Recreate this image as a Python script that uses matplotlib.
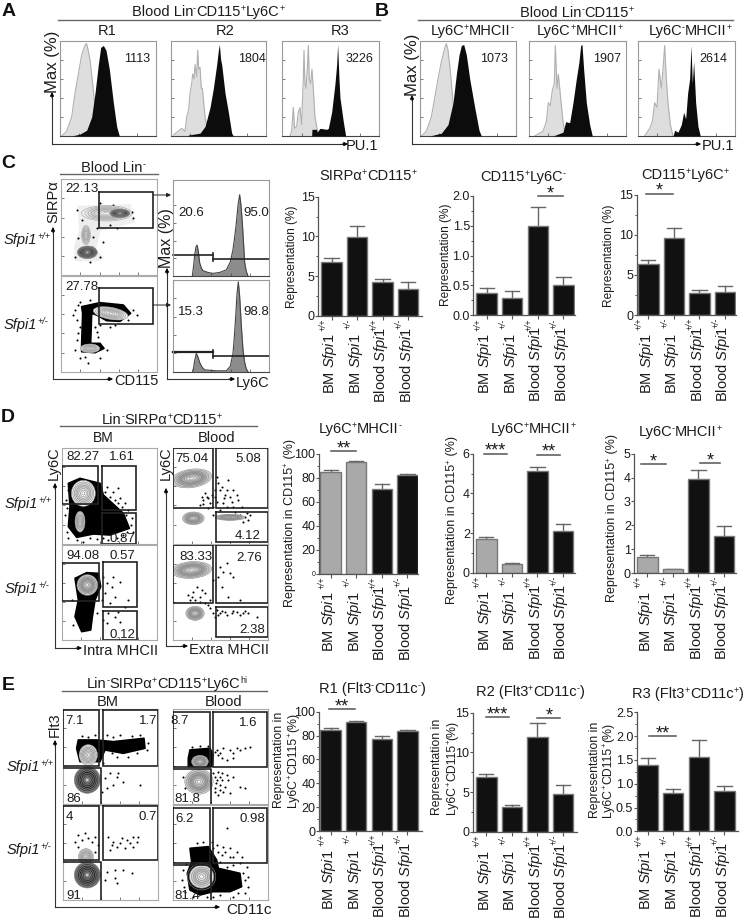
import re
import matplotlib
matplotlib.use("Agg")
import matplotlib.pyplot as plt
from matplotlib.font_manager import FontProperties
from matplotlib.patches import Ellipse, Polygon

plt.rcParams["font.family"] = ["Liberation Sans", "DejaVu Sans"]
plt.rcParams["mathtext.fontset"] = "custom"
plt.rcParams["mathtext.rm"] = "Liberation Sans"
plt.rcParams["mathtext.it"] = "Liberation Sans:italic"
plt.rcParams["mathtext.bf"] = "Liberation Sans:bold"
plt.rcParams["mathtext.default"] = "regular"

W, H = 746, 923
TEXT = "#1c1c1c"
GRAY_BAR = "#a9a9a9"
BLACK_BAR = "#111111"

# ---- bar charts ----
groups = ["BM", "BM", "Blood", "Blood"]
genotypes = ["+/+", "+/-", "+/+", "+/-"]

c1_vals = [6.8, 9.9, 4.2, 3.4]
c1_tops = [7.3, 11.3, 4.6, 4.2]
c2_vals = [0.37, 0.29, 1.49, 0.51]
c2_tops = [0.45, 0.41, 1.81, 0.65]
c3_vals = [6.4, 9.6, 2.8, 2.85]
c3_tops = [6.9, 10.8, 3.1, 3.6]
d1_vals = [85, 93.5, 70.5, 82.5]
d1_tops = [86.5, 94, 75, 83.5]
d2_vals = [1.72, 0.43, 5.15, 2.08]
d2_tops = [1.82, 0.48, 5.35, 2.45]
d3_vals = [0.65, 0.15, 3.95, 1.55]
d3_tops = [0.75, 0.17, 4.3, 1.95]
e1_vals = [85, 91.5, 77, 83.5]
e1_tops = [86.5, 92.5, 80, 84.5]
e2_vals = [6.9, 3.2, 11.9, 4.8]
e2_tops = [7.3, 3.4, 13.7, 5.9]
e3_vals = [1.39, 0.8, 1.57, 0.85]
e3_tops = [1.54, 0.88, 1.92, 0.96]

# ---- histograms (x = channel, y = % of max) ----
a1_gx = [185, 200, 215, 225, 235, 245, 255, 259, 262, 270, 278, 285, 295, 305]
a1_gy = [0, 5, 20, 45, 65, 85, 95, 97, 94, 80, 55, 30, 10, 1]
a1_kx = [215, 240, 260, 275, 285, 295, 302, 310, 318, 328, 340, 350, 358]
a1_ky = [0, 2, 6, 20, 45, 75, 93, 95, 90, 70, 35, 10, 0]
a2_gx = [520, 545, 555, 560, 566, 570, 575, 578, 582, 585, 590, 593, 596, 600, 604, 607, 615, 625]
a2_gy = [1, 8, 5, 20, 28, 45, 55, 65, 60, 75, 62, 90, 70, 72, 50, 50, 20, 2]
a2_kx = [565, 600, 615, 630, 640, 650, 655, 658, 662, 665, 675, 685, 695, 700]
a2_ky = [1, 3, 10, 30, 50, 75, 90, 96, 80, 75, 45, 25, 3, 0]
a3_gx = [870, 875, 880, 884, 890, 895, 900, 905, 910, 912, 915, 918, 922, 925, 928, 932, 936, 940, 945, 950, 955]
a3_gy = [0, 5, 30, 8, 10, 25, 30, 12, 60, 90, 55, 50, 70, 95, 60, 55, 70, 50, 20, 10, 0]
a3_kx = [935, 936, 950, 951, 960, 961, 980, 985, 995, 1005, 1010, 1013, 1017, 1020, 1030, 1037]
a3_ky = [0, 7, 7, 4, 8, 8, 7, 8, 25, 55, 75, 96, 60, 40, 15, 0]
b1_gx = [145, 160, 175, 185, 195, 205, 215, 220, 225, 232, 240, 248, 258]
b1_gy = [0, 5, 20, 40, 60, 78, 92, 97, 90, 68, 35, 12, 1]
b1_kx = [170, 205, 225, 240, 250, 258, 265, 272, 280, 290, 305, 318, 325]
b1_ky = [0, 3, 12, 35, 65, 85, 95, 96, 85, 60, 30, 6, 0]
b2_gx = [485, 510, 520, 526, 532, 538, 544, 547, 552, 556, 563, 570, 578]
b2_gy = [0, 5, 15, 35, 32, 48, 55, 95, 50, 65, 40, 15, 0]
b2_kx = [540, 570, 578, 590, 600, 610, 618, 623, 627, 632, 640, 650, 658]
b2_ky = [0, 4, 15, 14, 35, 60, 78, 95, 96, 70, 35, 12, 0]
b3_gx = [815, 830, 838, 845, 852, 858, 865, 870, 875, 880, 885, 892, 900]
b3_gy = [0, 8, 15, 35, 30, 70, 50, 70, 95, 60, 35, 12, 0]
b3_kx = [900, 905, 915, 925, 932, 938, 944, 950, 954, 958, 962, 968, 975, 982]
b3_ky = [0, 6, 4, 12, 25, 18, 45, 60, 95, 55, 78, 35, 10, 0]
c_top_x = [578, 582, 585, 589, 592, 596, 600, 605, 610, 625, 640, 660, 680, 692, 700, 705, 710, 715, 720, 724, 728, 732, 735, 740, 745]
c_top_y = [0, 12, 24, 33, 35, 28, 15, 9, 6, 4, 3, 4, 7, 16, 30, 44, 60, 80, 92, 80, 60, 35, 15, 5, 0]
c_bot_x = [580, 585, 590, 595, 600, 607, 615, 650, 680, 692, 700, 704, 708, 712, 716, 720, 725, 730, 735, 740, 745]
c_bot_y = [0, 12, 20, 16, 10, 5, 2, 1, 1, 6, 20, 38, 60, 85, 98, 82, 50, 24, 10, 3, 0]

# ---- flow panels: (cx, cy, w, h, angle) of contour groups, clouds and events ----
c_top_halo = [[(235, 170), (390, 165), (402, 215), (300, 240), (285, 300), (310, 325), (290, 332), (228, 330),
               (225, 290), (240, 240)]]
c_top_dark = [(262, 307, 60, 38, 0), (360, 190, 60, 26, 0)]
c_top_light = [(320, 190, 150, 46, 0), (258, 255, 26, 58, 0)]
c_top_dots = [(232, 180), (245, 210), (300, 160), (340, 165), (395, 185), (400, 205), (290, 235), (275, 290),
              (310, 275), (235, 265), (280, 260), (300, 320), (225, 320), (270, 335), (330, 225), (350, 235)]
c_bot_rings = [(332, 490, 105, 36, 10), (270, 595, 58, 26, 0)]
c_bot_clouds = [[(245, 470), (300, 458), (370, 465), (392, 490), (360, 514), (320, 512), (290, 495), (275, 490),
                 (272, 580), (300, 580), (312, 595), (285, 608), (245, 605), (245, 580), (248, 490)]]
c_bot_dots = [(235, 465), (225, 480), (232, 510), (300, 525), (330, 530), (385, 510), (400, 480), (240, 530),
              (285, 530), (295, 560), (230, 570), (225, 600), (320, 600), (240, 625), (265, 640), (345, 525),
              (240, 455), (270, 450), (410, 495), (220, 495), (290, 545), (235, 550), (300, 625), (255, 620)]

d_bm1_rings = [(250, 280, 72, 78, 0), (240, 365, 30, 62, 0)]
d_bm1_clouds = [[(205, 250), (240, 235), (300, 250), (310, 285), (370, 340), (388, 385), (330, 405), (280, 402),
                 (230, 412), (205, 380), (210, 320)]]
d_bm1_dots = [(320, 262), (340, 275), (355, 265), (375, 310), (385, 330), (395, 355), (400, 395), (370, 405),
              (350, 415), (325, 420), (290, 418), (250, 425), (205, 415), (195, 345), (198, 300), (360, 295),
              (330, 290), (345, 300), (365, 320), (378, 345), (392, 375), (380, 395), (310, 415), (270, 415),
              (230, 420), (200, 395), (200, 325), (203, 270), (315, 275), (355, 310)]
d_bm2_rings = [(262, 555, 62, 62, 0)]
d_bm2_clouds = [[(225, 535), (260, 518), (295, 520), (302, 560), (285, 600), (277, 650), (272, 690), (245, 695),
                 (225, 650), (235, 600)]]
d_bm2_dots = [(310, 530), (320, 550), (335, 560), (315, 580), (345, 590), (360, 545), (330, 610), (375, 620),
              (325, 640), (345, 650), (355, 635), (385, 600), (320, 670), (360, 665), (305, 600), (340, 530),
              (215, 600), (220, 675), (290, 640), (310, 660)]
d_bl1_rings = [(575, 235, 120, 55, -8), (580, 355, 65, 38, 0), (690, 352, 90, 18, 0)]
d_bl1_dots = [(620, 290), (610, 300), (630, 310), (645, 290), (600, 315), (625, 325), (655, 250), (665, 260),
              (680, 270), (700, 270), (690, 290), (715, 300), (670, 310), (725, 320), (740, 340), (745, 360),
              (660, 330), (640, 345), (700, 320), (720, 345), (675, 285), (615, 280), (650, 305), (730, 365),
              (605, 290), (625, 295), (635, 285), (610, 312), (640, 320), (660, 270), (672, 295), (695, 305),
              (710, 285), (705, 335), (735, 350), (750, 345), (685, 240), (650, 230), (645, 270), (680, 320)]
d_bl2_rings = [(575, 510, 120, 50, -4), (585, 640, 55, 42, 0)]
d_bl2_dots = [(580, 575), (600, 590), (570, 600), (590, 560), (615, 580), (640, 540), (660, 500), (680, 490),
              (700, 530), (665, 560), (685, 590), (720, 600), (625, 615), (640, 640), (660, 640), (675, 635),
              (695, 640), (710, 635), (730, 640), (745, 640), (650, 630), (770, 650), (690, 520), (630, 600),
              (575, 590), (585, 600), (565, 585), (605, 570), (600, 605), (680, 645), (665, 632), (720, 645),
              (700, 632), (735, 632), (655, 645), (645, 650), (630, 625), (615, 610), (670, 515), (655, 530)]

e_bm1_light = [(265, 285, 55, 62, 0)]
e_bm1_dark = [(262, 360, 78, 80, 0)]
e_bm1_clouds = [[(235, 240), (290, 240), (340, 245), (432, 235), (435, 265), (370, 280), (315, 270), (300, 305),
                 (240, 305), (230, 265)]]
e_bm1_dots = [(445, 250), (440, 270), (420, 225), (360, 225), (320, 225), (310, 310), (330, 340), (350, 350),
              (370, 365), (340, 375), (420, 375), (315, 355), (320, 385), (305, 395), (355, 340), (385, 290),
              (245, 228), (265, 232), (285, 225), (340, 232), (395, 228), (410, 280), (350, 290), (335, 280)]
e_bm2_light = [(258, 590, 45, 48, 0)]
e_bm2_dark = [(262, 645, 78, 78, 0)]
e_bm2_dots = [(235, 525), (245, 540), (235, 560), (285, 530), (295, 555), (275, 545), (325, 530), (340, 545),
              (360, 550), (380, 540), (400, 530), (415, 530), (350, 560), (375, 565), (330, 570), (400, 560),
              (255, 520), (265, 535), (225, 545), (285, 575), (320, 635), (345, 630), (370, 630), (395, 640),
              (345, 655), (315, 660), (350, 670), (335, 555), (365, 535), (390, 550), (410, 545), (245, 575)]
e_bl1_light = [(600, 305, 50, 38, 0), (597, 365, 85, 75, 0)]
e_bl1_clouds = [[(570, 270), (630, 265), (640, 285), (635, 320), (565, 320), (565, 295)]]
e_bl1_dots = [(650, 270), (670, 265), (690, 270), (700, 280), (720, 270), (735, 265), (655, 285), (680, 300),
              (640, 340), (650, 360), (660, 375), (680, 345), (670, 395), (700, 350), (645, 385), (660, 350),
              (720, 380), (735, 385), (550, 350), (555, 385), (750, 260), (655, 405), (665, 340), (690, 400),
              (645, 350), (655, 335), (648, 370), (665, 360), (675, 380), (685, 360), (645, 395), (660, 390),
              (645, 275), (660, 280), (665, 295), (710, 265), (700, 295), (575, 262), (600, 258), (625, 258)]
e_bl2_rings = [(605, 650, 85, 80, 0)]
e_bl2_clouds = [[(570, 565), (625, 560), (650, 600), (655, 625), (720, 640), (725, 680), (690, 695), (640, 695),
                 (600, 705), (570, 690), (562, 640), (575, 605)]]
e_bl2_dots = [(650, 555), (670, 560), (690, 565), (710, 575), (665, 585), (690, 590), (725, 590), (740, 620),
              (680, 505), (735, 660), (745, 680), (735, 700), (700, 712), (640, 712), (590, 550), (610, 545),
              (545, 660), (550, 630), (555, 695), (700, 615), (655, 575), (720, 610), (660, 605), (680, 620),
              (640, 565), (635, 545), (675, 575), (700, 590), (730, 640), (745, 650), (715, 700), (660, 705),
              (620, 712), (580, 710), (558, 612), (552, 680)]


def px_axes(fig, l, t, r, b):
    return fig.add_axes([l / W, 1 - b / H, (r - l) / W, (b - t) / H])


def bar_panel(fig, left, right, top, base, c0, ymax, vals, tops, colors, yticks, yminor, ylabels, sig):
    step = 25.55
    ax = px_axes(fig, left, top, right, base)
    ax.patch.set_alpha(0)
    xs = list(range(4))
    ax.bar(xs, vals, width=0.8, color=colors, edgecolor="#777777", linewidth=1, zorder=2)
    for x, v, t in zip(xs, vals, tops):
        ax.plot([x, x], [v, t], color="#666666", lw=1, zorder=1)
        ax.plot([x - 0.28, x + 0.28], [t, t], color="#666666", lw=1, zorder=1)
    ax.set_xlim((left - c0) / step, (right - c0) / step)
    ax.set_ylim(0, ymax)
    for s in ["top", "right"]:
        ax.spines[s].set_visible(False)
    for s in ["left", "bottom"]:
        ax.spines[s].set_color("#555555")
        ax.spines[s].set_linewidth(0.9)
    ax.set_xticks(xs)
    ax.set_xticklabels([])
    ax.set_yticks(yticks)
    ax.set_yticklabels(ylabels, fontsize=9, color=TEXT)
    ax.set_yticks(yminor, minor=True)
    ax.tick_params(axis="y", which="major", length=2, width=0.8, color="#555555", pad=0.5)
    ax.tick_params(axis="y", which="minor", length=1.2, width=0.7, color="#555555")
    ax.tick_params(axis="x", length=3, width=0.8, color="#555555")
    for x, grp, geno in zip(xs, groups, genotypes):
        off = 18 if grp == "BM" else 11
        ax.annotate(f"{grp} $\\mathit{{Sfpi1}}$", xy=(x, 0), xycoords=("data", "axes fraction"),
                    xytext=(-1.5, -off), textcoords="offset pixels", rotation=90,
                    ha="center", va="top", fontsize=10.5, color=TEXT)
        ax.annotate(geno, xy=(x, 0), xycoords=("data", "axes fraction"), xytext=(-9, -3),
                    textcoords="offset pixels", rotation=90, ha="center", va="top",
                    fontsize=6.2, style="italic", color=TEXT)
    for x0, x1, y, stars in sig:
        ax.plot([x0, x1], [y, y], color="#555555", lw=1.1, clip_on=False, zorder=3)
        ax.annotate(stars, xy=((x0 + x1) / 2, y), xytext=(0, -6), textcoords="offset pixels",
                    ha="center", va="bottom", fontsize=13, color=TEXT, annotation_clip=False)
    return ax


def hist_axes(fig, box, xr, ylim=(0, 100)):
    ax = px_axes(fig, *box)
    ax.set_xlim(*xr)
    ax.set_ylim(*ylim)
    for s in ax.spines.values():
        s.set_color("#999999")
        s.set_linewidth(0.8)
    ax.spines["bottom"].set_color("#444444")
    ax.set_xticks([xr[0] + (xr[1] - xr[0]) * f for f in (0.2, 0.4, 0.6, 0.8)])
    ax.set_yticks([20, 40, 60, 80])
    ax.set_xticklabels([])
    ax.set_yticklabels([])
    ax.tick_params(direction="in", length=2, width=0.5, color="#444444")
    return ax


def pu1_hist(fig, box, xr, gx, gy, kx, ky):
    ax = hist_axes(fig, box, xr)
    ax.fill_between(gx, gy, color="#dedede", lw=0, zorder=1)
    ax.plot(gx, gy, color="#b0b0b0", lw=0.8, zorder=2)
    ax.fill_between(kx, ky, color="#0c0c0c", lw=0, zorder=3)


def flow_axes(fig, box, xr, yr):
    ax = px_axes(fig, *box)
    ax.set_xlim(*xr)
    ax.set_ylim(*yr)  # y runs downward, panels carry no numeric scale
    for s in ax.spines.values():
        s.set_color("#aaaaaa")
        s.set_linewidth(0.8)
    ax.set_xticks([xr[0] + (xr[1] - xr[0]) * f for f in (0.2, 0.4, 0.6, 0.8)])
    ax.set_yticks([yr[0] + (yr[1] - yr[0]) * f for f in (0.2, 0.4, 0.6, 0.8)])
    ax.set_xticklabels([])
    ax.set_yticklabels([])
    ax.tick_params(direction="in", length=2, width=0.5, color="#444444")
    return ax


def rings(ax, specs, shades, edge="#888888"):
    for cx, cy, w, h, ang in specs:
        n = len(shades)
        for i, shade in enumerate(shades):
            f = 1 - i / n
            ax.add_patch(Ellipse((cx, cy), w * f, h * f, angle=ang, fc=shade, ec=edge, lw=0.4, zorder=3))


def clouds(ax, polys, color="black"):
    for p in polys:
        ax.add_patch(Polygon(p, closed=True, fc=color, ec=color, lw=1.2, zorder=2, joinstyle="round"))


def dots(ax, pts):
    ax.scatter([p[0] for p in pts], [p[1] for p in pts], s=2.2, c="black", lw=0, zorder=2)


def gate(ax, x0, y0, x1, y1, lw=1.2):
    ax.plot([x0, x1, x1, x0, x0], [y0, y0, y1, y1, y0], color="#222222", lw=lw, zorder=5, solid_joinstyle="miter")


LIGHT = ["#f6f6f6", "#e8e8e8", "#d8d8d8", "#cfcfcf", "#dcdcdc", "#eeeeee", "#fafafa", "#ffffff"]
DARK = ["#666666", "#4a4a4a", "#333333", "#222222", "#2f2f2f", "#444444", "#666666", "#cccccc"]
MID = ["#d8d8d8", "#c4c4c4", "#aaaaaa", "#999999", "#aaaaaa", "#c4c4c4", "#e0e0e0", "#f8f8f8"]
OUTL = ["#111111", "#e0e0e0", "#cccccc", "#bbbbbb", "#cccccc", "#e5e5e5", "#f8f8f8"]

fig = plt.figure(figsize=(W / 100, H / 100), dpi=100, facecolor="white")

# panel A and B histograms
top_y, base_y = 40.7, 136
pu1_hist(fig, (60, top_y, 156, base_y), (180, 468), a1_gx, a1_gy, a1_kx, a1_ky)
pu1_hist(fig, (170.7, top_y, 266, base_y), (512, 798), a2_gx, a2_gy, a2_kx, a2_ky)
pu1_hist(fig, (282.3, top_y, 379, base_y), (847, 1137), a3_gx, a3_gy, a3_kx, a3_ky)
pu1_hist(fig, (419.7, top_y, 515.7, base_y), (140, 428), b1_gx, b1_gy, b1_kx, b1_ky)
pu1_hist(fig, (529, top_y, 626.3, base_y), (468, 760), b2_gx, b2_gy, b2_kx, b2_ky)
pu1_hist(fig, (638, top_y, 735.3, base_y), (795, 1087), b3_gx, b3_gy, b3_kx, b3_ky)

# panel C flow
ax = flow_axes(fig, (61, 179.3, 157.3, 275), (183, 472), (375, 88))
clouds(ax, c_top_halo, color="#eeeeee")
dots(ax, c_top_dots)
rings(ax, c_top_light, LIGHT, edge="#999999")
rings(ax, c_top_dark, DARK)
gate(ax, 298, 127, 460, 235)
ax = flow_axes(fig, (61, 276, 157.3, 371.7), (183, 472), (665, 378))
dots(ax, c_bot_dots)
clouds(ax, c_bot_clouds)
rings(ax, c_bot_rings, LIGHT, edge="#999999")
gate(ax, 298, 415, 460, 523)

ax = hist_axes(fig, (173, 180, 269, 276), (520, 808), (0, 108.7))
ax.fill_between(c_top_x, c_top_y, color="#8c8c8c", lw=0)
ax.plot(c_top_x, c_top_y, color="#444444", lw=0.8)
ax.plot([520, 640], [24, 24], color="#222222", lw=1.2, clip_on=False)
ax.plot([640, 808], [19, 19], color="#222222", lw=1.2, clip_on=False)
ax.plot([640, 640], [17, 26], color="#222222", lw=1.2)
ax = hist_axes(fig, (173, 280, 269, 371.7), (520, 808), (0, 100))
ax.fill_between(c_bot_x, c_bot_y, color="#8c8c8c", lw=0)
ax.plot(c_bot_x, c_bot_y, color="#444444", lw=0.8)
ax.plot([520, 640], [22, 22], color="#222222", lw=1.6, clip_on=False)
ax.plot([640, 808], [17, 17], color="#222222", lw=1.2, clip_on=False)
ax.plot([640, 640], [15, 24], color="#222222", lw=1.2)

# panel D flow
ax = flow_axes(fig, (61.7, 447.7, 156.7, 544), (185, 470), (432, 143))
clouds(ax, d_bm1_clouds)
dots(ax, d_bm1_dots)
rings(ax, d_bm1_rings, LIGHT)
gate(ax, 185, 197, 295, 313)
gate(ax, 305, 197, 408, 330)
gate(ax, 305, 340, 408, 432)
ax = flow_axes(fig, (61.7, 545, 156.7, 640), (185, 470), (720, 435))
clouds(ax, d_bm2_clouds)
dots(ax, d_bm2_dots)
rings(ax, d_bm2_rings, MID)
gate(ax, 185, 490, 298, 603)
gate(ax, 308, 487, 410, 620)
gate(ax, 308, 632, 410, 720)
ax = flow_axes(fig, (172.7, 447.7, 268.3, 544), (518, 805), (432, 143))
dots(ax, d_bl1_dots)
rings(ax, d_bl1_rings, MID)
gate(ax, 518, 143, 640, 325)
gate(ax, 647, 143, 805, 325)
gate(ax, 647, 335, 805, 425)
ax = flow_axes(fig, (172.7, 545, 268.3, 640), (518, 805), (720, 435))
dots(ax, d_bl2_dots)
rings(ax, d_bl2_rings, MID)
gate(ax, 518, 435, 640, 610)
gate(ax, 647, 435, 805, 610)
gate(ax, 647, 622, 805, 710)

# panel E flow
ax = flow_axes(fig, (63.3, 709.3, 158.3, 804), (190, 475), (432, 148))
clouds(ax, e_bm1_clouds)
dots(ax, e_bm1_dots)
rings(ax, e_bm1_light, LIGHT)
rings(ax, e_bm1_dark, DARK)
gate(ax, 190, 150, 298, 318)
gate(ax, 308, 150, 475, 318)
ax.plot([190, 302, 302], [325, 325, 432], color="#222222", lw=1.2, zorder=5)
ax = flow_axes(fig, (63.3, 805.3, 158.3, 900), (190, 475), (720, 436))
dots(ax, e_bm2_dots)
rings(ax, e_bm2_light, LIGHT)
rings(ax, e_bm2_dark, DARK)
gate(ax, 190, 437, 298, 600)
gate(ax, 308, 437, 475, 600)
ax.plot([190, 302, 302], [605, 605, 720], color="#222222", lw=1.2, zorder=5)
ax = flow_axes(fig, (173.3, 709.3, 268.3, 804), (520, 805), (432, 148))
clouds(ax, e_bl1_clouds)
dots(ax, e_bl1_dots)
rings(ax, e_bl1_light, MID)
gate(ax, 520, 155, 630, 320)
gate(ax, 638, 155, 800, 322)
ax.plot([520, 634, 634], [328, 328, 432], color="#222222", lw=1.2, zorder=5)
ax = flow_axes(fig, (173.3, 805.3, 268.3, 900), (520, 805), (720, 436))
clouds(ax, e_bl2_clouds)
dots(ax, e_bl2_dots)
rings(ax, e_bl2_rings, OUTL)
gate(ax, 520, 445, 630, 610)
gate(ax, 638, 445, 800, 610)
ax.plot([520, 634, 634], [615, 615, 720], color="#222222", lw=1.2, zorder=5)

# bar charts
black4 = [BLACK_BAR] * 4
mixed4 = [GRAY_BAR, GRAY_BAR, BLACK_BAR, BLACK_BAR]
bar_panel(fig, 318.3, 421.7, 196.7, 315.7, 331.5, 15, c1_vals, c1_tops, black4, [0, 5, 10, 15], [2.5, 7.5, 12.5],
          ["0", "5", "10", "15"], [])
bar_panel(fig, 473.3, 575, 196, 315.3, 486.7, 2.0, c2_vals, c2_tops, black4, [0, 0.5, 1, 1.5, 2], [0.25, 0.75, 1.25, 1.75],
          ["0.0", "0.5", "1.0", "1.5", "2.0"], [(2, 3, 2.0, "*")])
bar_panel(fig, 636.7, 736, 194.7, 315, 648.3, 15, c3_vals, c3_tops, black4, [0, 5, 10, 15], [2.5, 7.5, 12.5],
          ["0", "5", "10", "15"], [(-0.1, 0.95, 15.1, "*")])
ax = bar_panel(fig, 319, 418, 454, 573.7, 330.7, 100, d1_vals, d1_tops, mixed4, [0, 20, 40, 60, 80, 100], [10, 30, 50, 70, 90],
               ["0", "20", "40", "60", "80", "100"], [(0, 1, 102.5, "**")])
ax.get_yticklabels()[0].set_fontsize(5)
bar_panel(fig, 473.3, 575, 453.7, 572.7, 486.3, 6, d2_vals, d2_tops, mixed4, [0, 2, 4, 6], [1, 3, 5],
          ["0", "2", "4", "6"], [(-0.1, 0.8, 6, "***"), (2, 2.9, 5.95, "**")])
bar_panel(fig, 634.3, 736, 453.7, 573, 647.3, 5, d3_vals, d3_tops, mixed4, [0, 1, 2, 3, 4, 5], [],
          ["0", "1", "2", "3", "4", "5"], [(-0.25, 0.72, 4.55, "*"), (2.05, 2.85, 4.6, "*")])
bar_panel(fig, 319, 421.7, 711.7, 831, 330.7, 100, e1_vals, e1_tops, black4, [0, 20, 40, 60, 80, 100], [10, 30, 50, 70, 90],
          ["0", "20", "40", "60", "80", "100"], [(-0.07, 0.97, 102, "**")])
bar_panel(fig, 472.7, 577, 712.7, 832, 486.3, 15, e2_vals, e2_tops, black4, [0, 5, 10, 15], [2.5, 7.5, 12.5],
          ["0", "5", "10", "15"], [(0, 0.9, 14.4, "***"), (2, 2.9, 14.3, "*")])
bar_panel(fig, 636.7, 738, 712.3, 831.3, 647.7, 2.5, e3_vals, e3_tops, black4, [0, 0.5, 1, 1.5, 2, 2.5], [0.25, 0.75, 1.25, 1.75, 2.25],
          ["0.0", "0.5", "1.0", "1.5", "2.0", "2.5"], [(0.05, 1.1, 2.0, "**")])

# overlay for labels, headers and axis arrows
ov = fig.add_axes([0, 0, 1, 1], zorder=20)
ov.set_xlim(0, W)
ov.set_ylim(H, 0)
ov.axis("off")
renderer = fig.canvas.get_renderer()


def run_width(s, size, italic):
    fp = FontProperties(family="Liberation Sans", size=size, style="italic" if italic else "normal")
    return (renderer.get_text_width_height_descent(s + ".", fp, False)[0]
            - renderer.get_text_width_height_descent(".", fp, False)[0])


def txt(x, y, s, size=10.5, ha="center", rot=0, italic=False):
    # text with small tight superscripts, written as runs: "CD115^{+}Ly6C^{-}"
    runs = []
    for i, part in enumerate(re.split(r"\^\{(.*?)\}", s)):
        if part:
            sup = i % 2 == 1
            sz = size * 0.62 if sup else size
            runs.append((part, sup, sz, run_width(part, sz, italic)))
    total = sum(r[3] for r in runs)
    px = size * 100 / 72
    start = -total / 2 if ha == "center" else 0
    for part, sup, sz, w in runs:
        raise_by = 0.36 * px if sup else 0
        base = 0.36 * px - raise_by
        if rot == 90:
            px_x, px_y = x + base, y - start
        else:
            px_x, px_y = x + start, y + base
        ov.text(px_x, px_y, part, fontsize=sz, ha="left", va="baseline", rotation=rot, rotation_mode="anchor",
                color=TEXT, style="italic" if italic else "normal")
        start += w


def hline(x0, x1, y):
    ov.plot([x0, x1], [y, y], color="#666666", lw=1)


def corner(x, y_low, y_top, x_end):
    ov.plot([x, x], [y_low, y_top + 3], color="#333333", lw=0.8)
    ov.plot([x, x_end - 3], [y_low, y_low], color="#333333", lw=0.8)
    ov.annotate("", xy=(x, y_top), xytext=(x, y_top + 6),
                arrowprops=dict(arrowstyle="-|>", color="black", lw=0.6, mutation_scale=6, shrinkA=0, shrinkB=0))
    ov.annotate("", xy=(x_end, y_low), xytext=(x_end - 6, y_low),
                arrowprops=dict(arrowstyle="-|>", color="black", lw=0.6, mutation_scale=6, shrinkA=0, shrinkB=0))


for letter, x, y in [("A", 9, 12), ("B", 382, 11), ("C", 8, 164), ("D", 8, 417), ("E", 8, 685)]:
    ov.text(x, y, letter, fontsize=14, fontweight="bold", ha="center", va="center", color="#111111")

# A / B headers
txt(208, 11, "Blood Lin^{-}CD115^{+}Ly6C^{+}")
hline(58, 380, 20)
txt(107, 30, "R1")
txt(225, 30, "R2")
txt(340, 30, "R3")
txt(137, 57, "1113", 9)
txt(252, 57, "1804", 9)
txt(359, 57, "3226", 9)
txt(51, 62, "Max (%)", 12, rot=90)
corner(52, 144, 92, 348)
txt(362, 145, "PU.1", 10.5)
txt(577, 12, "Blood Lin^{-}CD115^{+}")
hline(418, 733, 20)
txt(472, 30, "Ly6C^{+}MHCII^{-}")
txt(580, 30, "Ly6C^{+}MHCII^{+}")
txt(690, 30, "Ly6C^{-}MHCII^{+}")
txt(494, 58, "1073", 9)
txt(607, 58, "1907", 9)
txt(713, 58, "2614", 9)
txt(411, 65, "Max (%)", 12, rot=90)
corner(412, 144, 95, 701)
txt(718, 145, "PU.1", 10.5)

# C labels
txt(113, 167, "Blood Lin^{-}")
hline(60, 158, 174)
txt(82, 187, "22.13", 9.5)
txt(82, 285, "27.78", 9.5)
txt(52, 202, "SIRPα", 10.5, rot=90)
txt(4, 239, "Sfpi1^{+/+}", 10.5, ha="left", italic=True)
txt(4, 324, "Sfpi1^{+/-}", 10.5, ha="left", italic=True)
corner(53, 379, 227, 113)
txt(114, 380, "CD115", 10.5, ha="left")
txt(191, 211, "20.6", 9.5)
txt(256, 211, "95.0", 9.5)
txt(191, 310, "15.3", 9.5)
txt(256, 310, "98.8", 9.5)
txt(165, 238, "Max (%)", 11.5, rot=90)
corner(167, 379, 268, 235)
txt(253, 382, "Ly6C", 10.5)
for y in (195, 305):
    ov.annotate("", xy=(171, y), xytext=(153, y),
                arrowprops=dict(arrowstyle="-|>", color="#222222", lw=0.7, mutation_scale=6, shrinkA=0, shrinkB=0))

# bar titles and y labels
bar_titles = [(368, 175, "SIRPα^{+}CD115^{+}"), (523, 176, "CD115^{+}Ly6C^{-}"), (685, 174, "CD115^{+}Ly6C^{+}"),
              (360, 428, "Ly6C^{+}MHCII^{-}"), (533, 428, "Ly6C^{+}MHCII^{+}"), (680, 431, "Ly6C^{-}MHCII^{+}"),
              (372, 688, "R1 (Flt3^{-}CD11c^{-})"), (530, 691, "R2 (Flt3^{+}CD11c^{-})"), (688, 693, "R3 (Flt3^{+}CD11c^{+})")]
for x, y, s in bar_titles:
    txt(x, y, s)
for x, y in [(291, 257), (445, 255), (608, 256)]:
    txt(x, y, "Representation (%)", 8.6, rot=90)
for x, y in [(288, 523), (451, 520), (611, 518)]:
    txt(x, y, "Representation in CD115^{+} (%)", 9, rot=90)
for x, y in [(278, 760), (436, 767), (594, 770)]:
    txt(x, y, "Representation in", 8.8, rot=90)
for x, y in [(292, 760), (451, 767), (607, 770)]:
    txt(x, y, "Ly6C^{+}CD115^{+}(%)", 8.8, rot=90)

# D labels
txt(162, 419, "Lin^{-}SIRPα^{+}CD115^{+}")
hline(60, 257, 426)
txt(103, 437, "BM", 10)
txt(217, 437, "Blood", 10.5)
d_numbers = [(83, 455, "82.27"), (122, 455, "1.61"), (192, 457, "75.04"), (248, 457, "5.08"),
             (122, 537, "0.87"), (248, 534, "4.12"), (83, 554, "94.08"), (122, 554, "0.57"),
             (196, 555, "83.33"), (249, 556, "2.76"), (122, 633, "0.12"), (252, 628, "2.38")]
for x, y, s in d_numbers:
    txt(x, y, s, 9.5)
txt(53, 463, "Ly6C", 10.5, rot=90)
txt(165, 463, "Ly6C", 10.5, rot=90)
txt(5, 503, "Sfpi1^{+/+}", 10.5, ha="left", italic=True)
txt(5, 588, "Sfpi1^{+/-}", 10.5, ha="left", italic=True)
corner(55, 648, 483, 82)
txt(83, 650, "Intra MHCII", 10.5, ha="left")
corner(166, 646, 488, 188)
txt(189, 649, "Extra MHCII", 10.5, ha="left")

# E labels
txt(167, 683, "Lin^{-}SIRPα^{+}CD115^{+}Ly6C^{hi}")
hline(62, 267, 691)
txt(108, 701, "BM", 10.5)
txt(224, 701, "Blood", 10.5)
e_numbers = [(75, 719, "7.1"), (148, 719, "1.7"), (180, 719, "8.7"), (248, 721, "1.6"),
             (74, 797, "86"), (187, 797, "81.8"), (69, 815, "4"), (148, 815, "0.7"),
             (185, 817, "6.2"), (252, 817, "0.98"), (74, 894, "91"), (187, 894, "81.4")]
for x, y, s in e_numbers:
    txt(x, y, s, 9.5)
txt(53, 725, "Flt3", 10.5, rot=90)
txt(7, 766, "Sfpi1^{+/+}", 10.5, ha="left", italic=True)
txt(7, 849, "Sfpi1^{+/-}", 10.5, ha="left", italic=True)
corner(55, 907, 740, 220)
txt(226, 909, "CD11c", 11, ha="left")

fig.savefig("out.png", dpi=100)
